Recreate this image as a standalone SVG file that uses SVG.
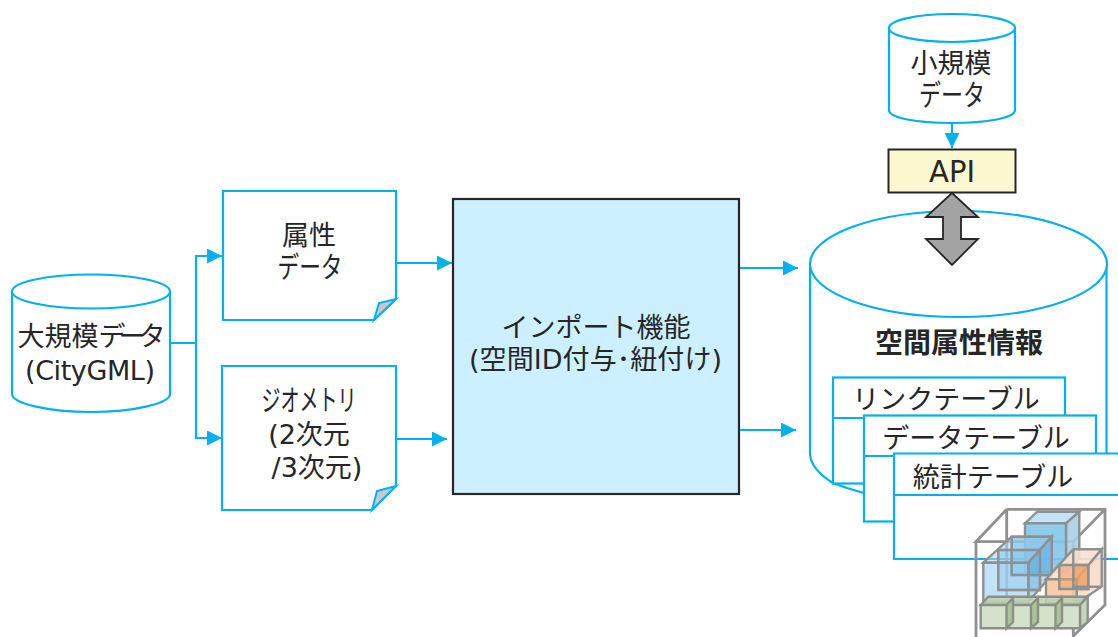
<svg xmlns="http://www.w3.org/2000/svg" width="1118" height="637" viewBox="0 0 1118 637">
<style>
.b{fill:#fff;stroke:#00b0f0;stroke-width:2.2}
.l{fill:none;stroke:#00b0f0;stroke-width:2.2}
.fold{fill:#c9c9c9;stroke:#00b0f0;stroke-width:2}
text{font-family:"DejaVu Sans","Noto Sans CJK JP",sans-serif;font-size:27px;fill:#262626;text-anchor:middle}
.k{letter-spacing:-7px}
.n{font-size:29px}
.g{fill:none;stroke:#909090;stroke-width:2.8}
.c{stroke:#8f9090;stroke-width:2.4}
</style>
<defs>
<marker id="a" markerWidth="16" markerHeight="16" refX="15" refY="7.500" orient="auto" markerUnits="userSpaceOnUse"><path d="M0 0L15 7.500L0 15Z" fill="#00b0f0"/></marker>
</defs>
<g id="node-large-data">
<path class="b" d="M12 291V394C12 403 47 412 91 412S170 403 170 394V291"/>
<ellipse class="b" cx="91" cy="291.500" rx="79" ry="17"/>
<text x="88" y="346">大規模<tspan class="k">データ</tspan></text>
<text x="90" y="380" textLength="130">(CityGML)</text>
</g>
<g id="node-attr">
<path class="b" d="M223 191H396V299L374 320H223Z"/>
<path class="fold" d="M374 320L379 303L396 299Z"/>
<text x="309" y="245">属性</text>
<text class="n" x="310" y="278" textLength="65" lengthAdjust="spacingAndGlyphs">データ</text>
</g>
<g id="node-geom">
<path class="b" d="M222 366H396V486L372 510H222Z"/>
<path class="fold" d="M372 510L377 491L396 486Z"/>
<text class="n" x="309" y="411" textLength="95" lengthAdjust="spacingAndGlyphs">ジオメトリ</text>
<text x="309" y="444">(2次元</text>
<text x="317" y="477">/3次元)</text>
</g>
<g id="node-import">
<rect x="453" y="199" width="286" height="295" fill="#ccf0ff" stroke="#262626" stroke-width="2.2"/>
<text x="596" y="337">インポート機能</text>
<text x="595.500" y="369" textLength="253">(空間ID付与･紐付け)</text>
</g>
<g id="node-store">
<path class="b" d="M810 264V453C810 465 820 475 833 483C843 487 853 490 864 493H1106.500V264"/>
<ellipse class="b" cx="958.500" cy="264" rx="148.500" ry="53"/>
<text x="959" y="353" style="font-weight:700;font-size:28px">空間属性情報</text>
</g>
<g id="node-small-data">
<path class="b" d="M889 28V110C889 118 917 123 952 123S1015 118 1015 110V28"/>
<ellipse class="b" cx="952" cy="28" rx="63" ry="14"/>
<text x="951" y="73">小規模</text>
<text class="n" x="952" y="106" textLength="66" lengthAdjust="spacingAndGlyphs">データ</text>
</g>
<g id="node-api">
<rect x="888.500" y="149.500" width="127" height="43" fill="#fbf8cf" stroke="#262626" stroke-width="2"/>
<text x="952" y="182" style="font-size:30px" textLength="46" lengthAdjust="spacingAndGlyphs">API</text>
</g>
<g id="connector-api-store">
<path d="M952 193L978 217H961V239H978L952 265L926 239H943V217H926Z" fill="#a3a3a3" stroke="#262626" stroke-width="1.800"/>
</g>
<g id="node-link-table">
<rect class="b" x="833" y="377.500" width="232" height="106"/>
<path class="l" d="M833 418H1065"/>
<text x="946" y="409">リンクテーブル</text>
</g>
<g id="node-data-table">
<rect class="b" x="864" y="415.500" width="232" height="106"/>
<path class="l" d="M864 456H1096"/>
<text x="976" y="448">データテーブル</text>
</g>
<g id="node-stat-table">
<path class="b" d="M1118 559H894V453.500H1118"/>
<path class="l" d="M894 495H1118"/>
<text x="993" y="487">統計テーブル</text>
</g>
<g id="connectors">
<path class="l" d="M171 343H196V256H222" marker-end="url(#a)"/>
<path class="l" d="M196 343V438H222" marker-end="url(#a)"/>
<path class="l" d="M397 263H452" marker-end="url(#a)"/>
<path class="l" d="M397 439H447" marker-end="url(#a)"/>
<path class="l" d="M740 268H798" marker-end="url(#a)"/>
<path class="l" d="M740 430H796" marker-end="url(#a)"/>
<path class="l" d="M952 123V148" marker-end="url(#a)"/>
</g>
<g id="cube-figure">
<path class="g" d="M1006.700 509.300H1105V605L1073.300 636M1006.700 509.300L976 541.700H1073.300L1105 509.300M1006.700 509.300V603M976 541.700V637M1073.300 541.700V637"/>
<g class="c">
<path fill="#bfe0f5" fill-opacity=".9" d="M1025 523.300L1037.300 511.700H1079.300L1066 523.300Z"/>
<path fill="#aacfe6" fill-opacity=".9" d="M1066 523.300L1079.300 511.700V558L1066 572Z"/>
<path fill="#82c6ec" fill-opacity=".9" d="M1025 523.300H1066V572H1025Z"/>
<path fill="#4ea8df" fill-opacity=".6" d="M1011.700 536.700H1051.700V575H1011.700Z"/>
<path fill="#4ea8df" fill-opacity=".45" d="M998.300 550H1040V590H998.300Z"/>
<path fill="#a6d6f3" fill-opacity=".6" d="M983.300 562.700L1011.700 536.700H1051.700L1028.300 562.700Z"/>
<path fill="#7cc0e8" fill-opacity=".55" d="M1028.300 562.700L1051.700 536.700V575L1028.300 601.700Z"/>
<path fill="#a6d6f3" fill-opacity=".7" d="M983.300 562.700H1028.300V601.700H983.300Z"/>
<path fill="none" d="M998.300 550H1040M998.300 550V590H1040V550M1011.700 536.700V575H1051.700"/>
</g>
<g class="c">
<path fill="#fae0cd" fill-opacity=".9" d="M1046 579.300L1073.300 549.300H1101.700L1076.700 579.300Z"/>
<path fill="#f9dcc6" fill-opacity=".9" d="M1076.700 579.300L1101.700 549.300V586.700L1076.700 603.300Z"/>
<path fill="#f2ab78" fill-opacity=".75" d="M1073.300 565H1088.300V589H1073.300Z"/>
<path fill="#f7c6a2" fill-opacity=".9" d="M1046 579.300H1076.700V603.300H1046Z"/>
<path fill="#ee9f66" fill-opacity=".55" d="M1059.300 565H1088.300V589H1059.300Z"/>
<path fill="none" d="M1073.300 549.300V586.700H1101.700"/>
</g>
<g stroke="#8a9088" stroke-width="2.400">
<path fill="#bcd3b0" fill-opacity=".9" d="M980.700 605L988.300 596.700H1087.700L1080 605Z"/>
<path fill="#c6d6bb" d="M1080 605L1087.700 596.700V621.700L1080 628.300Z"/>
<path fill="#d3e2c8" d="M980.700 605H1080V628.300H980.700Z"/>
<path fill="#a9c595" d="M1006.500 605L1013 598V622L1006.500 628.300ZM1031 605L1038 598V622L1031 628.300ZM1055.500 605L1062 598V622L1055.500 628.300Z"/>
</g>
</g>
</svg>
